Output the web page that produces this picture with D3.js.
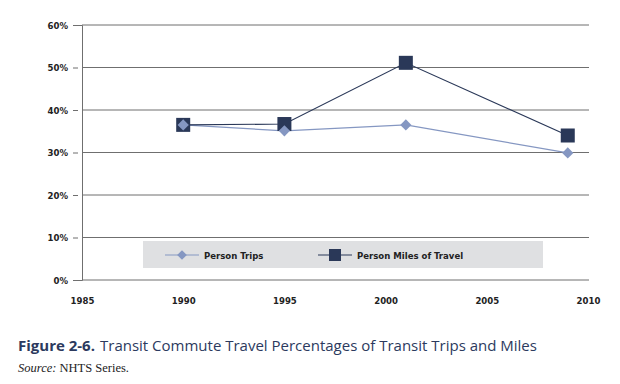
<!DOCTYPE html>
<html><head><meta charset="utf-8">
<script src="https://cdn.jsdelivr.net/npm/d3@7"></script>
<style>
body{margin:0;background:#fff;}
svg{display:block;}
.cond{font-family:"DejaVu Sans",sans-serif;font-stretch:condensed;font-weight:bold;font-size:9.5px;fill:#222;}
.tick text{font-family:"DejaVu Sans",sans-serif;font-stretch:condensed;font-weight:bold;font-size:9.5px;fill:#222;}
</style></head>
<body>
<svg id="c" width="620" height="384"></svg>
<script>
const years = [1990, 1995, 2001, 2009];
const personTrips = [36.5, 35.1, 36.5, 29.9];
const personMiles = [36.5, 36.7, 51.1, 34.0];
const xTicks = [1985, 1990, 1995, 2000, 2005, 2010];
const yTicks = [0, 10, 20, 30, 40, 50, 60];
const seriesNames = ["Person Trips", "Person Miles of Travel"];

const svg = d3.select("#c");
const x = d3.scaleLinear().domain([1985, 2010]).range([82, 588]);
const y = d3.scaleLinear().domain([0, 60]).range([280, 25]);

svg.append("g").selectAll("line").data(yTicks).join("line")
  .attr("x1", 82).attr("x2", 589)
  .attr("y1", d => y(d)).attr("y2", d => y(d))
  .attr("stroke", "#6f6f6f").attr("stroke-width", 1);

const ya = svg.append("g").attr("transform", "translate(82,0)")
  .call(d3.axisLeft(y).tickValues(yTicks).tickFormat(d => d + "%").tickSize(5).tickPadding(5));
ya.select(".domain").attr("stroke", "#6f6f6f");
ya.selectAll(".tick line").attr("stroke", "#6f6f6f").attr("transform", "translate(-4,0)");
ya.selectAll(".tick text").attr("dx", "-4");

const xa = svg.append("g").attr("transform", "translate(0,280)")
  .call(d3.axisBottom(x).tickValues(xTicks).tickFormat(d3.format("d")).tickSize(0).tickPadding(17));
xa.select(".domain").remove();

svg.append("rect").attr("x", 143).attr("y", 241).attr("width", 400).attr("height", 27).attr("fill", "#dfe0e2");

const line = d3.line().x((d, i) => x(years[i])).y(d => y(d));
const cTrips = "#8597c2", cMiles = "#2a3858";

svg.append("path").datum(personTrips).attr("d", line).attr("fill", "none").attr("stroke", cTrips).attr("stroke-width", 1.2);
svg.append("path").datum(personMiles).attr("d", line).attr("fill", "none").attr("stroke", cMiles).attr("stroke-width", 1.2);

svg.append("g").selectAll("rect").data(personMiles).join("rect")
  .attr("x", (d, i) => x(years[i]) - 7).attr("y", d => y(d) - 7)
  .attr("width", 14).attr("height", 14).attr("fill", cMiles);

const diamond = d3.symbol().type(d3.symbolDiamond2).size(80);
svg.append("g").selectAll("path").data(personTrips).join("path")
  .attr("d", diamond)
  .attr("transform", (d, i) => `translate(${x(years[i])},${y(d)})`)
  .attr("fill", cTrips);

const lg = svg.append("g");
lg.append("line").attr("x1", 165).attr("x2", 199).attr("y1", 255).attr("y2", 255).attr("stroke", cTrips).attr("stroke-width", 1.2);
lg.append("path").attr("d", d3.symbol().type(d3.symbolDiamond2).size(60)).attr("transform", "translate(182,255)").attr("fill", cTrips);
lg.append("text").attr("class", "cond").attr("x", 204).attr("y", 259).text(seriesNames[0]);
lg.append("line").attr("x1", 318).attr("x2", 352).attr("y1", 255).attr("y2", 255).attr("stroke", cMiles).attr("stroke-width", 1.2);
lg.append("rect").attr("x", 329).attr("y", 249).attr("width", 12).attr("height", 12).attr("fill", cMiles);
lg.append("text").attr("class", "cond").attr("x", 357).attr("y", 259).text(seriesNames[1]);

const cap = svg.append("text").attr("x", 18).attr("y", 351)
  .attr("font-family", '"Open Sans","Noto Sans",sans-serif').attr("font-size", 15).attr("fill", "#2c3a5e");
cap.append("tspan").attr("font-weight", "bold").text("Figure 2-6.");
cap.append("tspan").attr("dx", 5).text("Transit Commute Travel Percentages of Transit Trips and Miles");

const src = svg.append("text").attr("x", 18).attr("y", 372)
  .attr("font-family", '"Liberation Serif","DejaVu Serif",serif').attr("font-size", 12.5).attr("fill", "#222");
src.append("tspan").attr("font-style", "italic").text("Source:");
src.append("tspan").text(" NHTS Series.");
</script>
</body></html>
